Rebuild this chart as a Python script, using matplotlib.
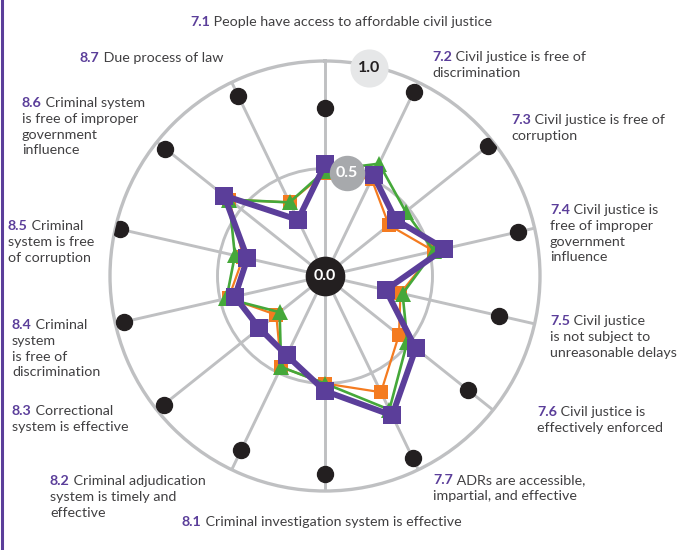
import numpy as np
import matplotlib
matplotlib.use('Agg')
import matplotlib.pyplot as plt

plt.rcParams['font.family'] = ['Lato', 'DejaVu Sans']

# sub-factor codes, clockwise from the top
codes = ['7.1', '7.2', '7.3', '7.4', '7.5', '7.6', '7.7',
         '8.1', '8.2', '8.3', '8.4', '8.5', '8.6', '8.7']

# scores
top_scores = [0.78, 0.95, 0.97, 0.92, 0.83, 0.85, 0.94, 0.92, 0.90, 0.96, 0.96, 0.98, 0.95, 0.93]
purple_scores = [0.52, 0.52, 0.42, 0.57, 0.29, 0.54, 0.72, 0.535, 0.41, 0.39, 0.43, 0.37, 0.60, 0.29]
orange_scores = [0.48, 0.50, 0.38, 0.52, 0.36, 0.44, 0.60, 0.50, 0.47, 0.29, 0.46, 0.39, 0.57, 0.38]
green_scores = [0.49, 0.58, 0.48, 0.52, 0.37, 0.49, 0.69, 0.50, 0.47, 0.27, 0.47, 0.43, 0.57, 0.38]

label_lines = {
    '7.1': ['People have access to affordable civil justice'],
    '7.2': ['Civil justice is free of', 'discrimination'],
    '7.3': ['Civil justice is free of', 'corruption'],
    '7.4': ['Civil justice is', 'free of improper', 'government', 'influence'],
    '7.5': ['Civil justice', 'is not subject to', 'unreasonable delays'],
    '7.6': ['Civil justice is', 'effectively enforced'],
    '7.7': ['ADRs are accessible,', 'impartial, and effective'],
    '8.1': ['Criminal investigation system is effective'],
    '8.2': ['Criminal adjudication', 'system is timely and', 'effective'],
    '8.3': ['Correctional', 'system is effective'],
    '8.4': ['Criminal', 'system', 'is free of', 'discrimination'],
    '8.5': ['Criminal', 'system is free', 'of corruption'],
    '8.6': ['Criminal system', 'is free of improper', 'government', 'influence'],
    '8.7': ['Due process of law'],
}

# where each label block starts (left x, first line centre y), in pixels
label_pos = {
    '7.1': (190, 22), '7.2': (432, 57), '7.3': (511, 120), '7.4': (550, 210),
    '7.5': (550, 321), '7.6': (537, 412), '7.7': (433, 480), '8.1': (182, 522),
    '8.2': (50, 481), '8.3': (12, 411), '8.4': (12, 325), '8.5': (8, 226),
    '8.6': (22, 103), '8.7': (80, 58),
}

PURPLE = '#5b3e9a'
ORANGE = '#f47b20'
GREEN = '#45a83a'
GRID = '#bfc0c2'
TEXT = '#414042'

W, H = 686, 550
fig = plt.figure(figsize=(W / 100, H / 100), dpi=100)

# polar axes placed so the centre sits at (325, 276) px, radius 215 px
cx, cy, R = 325, 276, 215
ax = fig.add_axes([(cx - R) / W, (H - cy - R) / H, 2 * R / W, 2 * R / H], projection='polar')
ax.set_theta_zero_location('N')
ax.set_theta_direction(-1)
ax.set_ylim(0, 1)

n = len(codes)
theta = np.arange(n) * 2 * np.pi / n
ax.set_thetagrids(np.degrees(theta), labels=[''] * n)
ax.set_rgrids([0.5], labels=[''])
ax.grid(True, color=GRID, linewidth=2.1)
ax.spines['polar'].set_color(GRID)
ax.spines['polar'].set_linewidth(2.4)
ax.set_facecolor('white')
ax.tick_params(length=0)


def closed(vals):
    return np.append(theta, theta[0]), np.append(vals, vals[0])


t, r = closed(orange_scores)
ax.plot(t, r, color=ORANGE, lw=1.6, marker='s', ms=10.5, mew=0, zorder=4)
t, r = closed(green_scores)
ax.plot(t, r, color=GREEN, lw=1.9, marker='^', ms=11, mew=0, zorder=5)
t, r = closed(purple_scores)
ax.plot(t, r, color=PURPLE, lw=4.3, marker='s', ms=13, mew=0, zorder=6)

ax.plot(theta, top_scores, ls='none', marker='o', ms=11.5, color='#231f20', zorder=7)

# scale markers
ring_angle = np.radians(12)
ax.scatter([0], [0], s=760, color='#231f20', zorder=8, clip_on=False)
ax.text(0, 0, '0.0', color='white', fontsize=11.5, fontweight='bold', ha='center', va='center', zorder=9)
ax.scatter([ring_angle], [0.49], s=600, color='#a7a9ac', zorder=8, clip_on=False)
ax.text(ring_angle, 0.49, '0.5', color='white', fontsize=11.5, fontweight='bold', ha='center', va='center', zorder=9)
ax.scatter([ring_angle], [0.99], s=700, color='#e6e7e8', zorder=8, clip_on=False)
ax.text(ring_angle, 0.99, '1.0', color='#231f20', fontsize=11.5, fontweight='bold', ha='center', va='center', zorder=9)

# labels: bold purple code followed by grey text
FS = 10.3
LS = 15.8
for code in codes:
    x, y = label_pos[code]
    lines = label_lines[code]
    base = y + 4
    num = fig.text(x / W, 1 - base / H, code, color=PURPLE, fontsize=FS, fontweight='bold',
                   ha='left', va='baseline')
    ax.annotate(' ' + lines[0], xy=(1, 0), xycoords=num, color=TEXT, fontsize=FS,
                ha='left', va='bottom', annotation_clip=False)
    for i, line in enumerate(lines[1:], start=1):
        fig.text(x / W, 1 - (base + i * LS) / H, line, color=TEXT, fontsize=FS,
                 ha='left', va='baseline')

# purple rule on the left edge
fig.add_artist(plt.Line2D([2 / W, 2 / W], [0, 1], color=PURPLE, lw=2.2))

fig.savefig('out.png', dpi=100)
